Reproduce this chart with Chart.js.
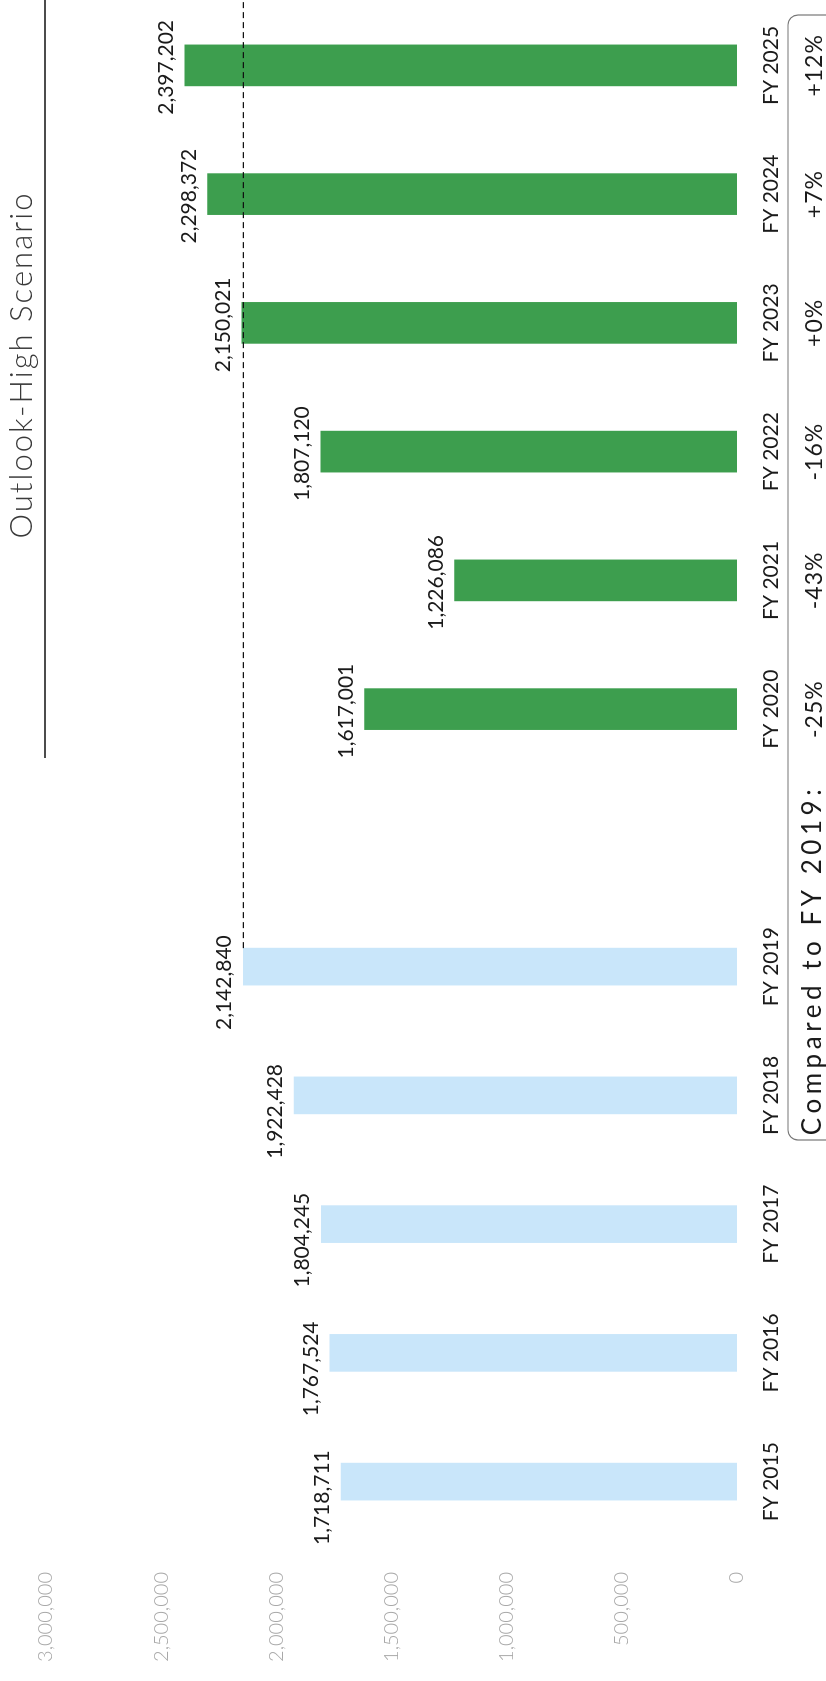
<!DOCTYPE html>
<html><head><meta charset="utf-8">
<script src="https://cdn.jsdelivr.net/npm/chart.js@4"></script>
<style>
html,body{margin:0;padding:0;background:#fff;overflow:hidden;width:826px;height:1681px;}
#wrap{position:absolute;left:0;top:0;width:1681px;height:826px;transform-origin:0 0;transform:translateY(1681px) rotate(-90deg);background:#fff;}
canvas{display:block;}
</style></head><body>
<div id="wrap"><canvas id="c" width="1681" height="826"></canvas></div>
<script>
const categories = ['FY 2015','FY 2016','FY 2017','FY 2018','FY 2019','','FY 2020','FY 2021','FY 2022','FY 2023','FY 2024','FY 2025'];
const historical = [1718711,1767524,1804245,1922428,2142840,null,null,null,null,null,null,null];
const outlookHigh = [null,null,null,null,null,null,1617001,1226086,1807120,2150021,2298372,2397202];
const changeVs2019 = ['','','','','','','-25%','-43%','-16%','+0%','+7%','+12%'];
const yTicks = [0,500000,1000000,1500000,2000000,2500000,3000000];
const baselineIndex = 4;
const titleText = 'Outlook-High Scenario';
const compareLabel = 'Compared to FY 2019:';

const fmt = v => Number(v).toLocaleString('en-US');

function fitSpacing(ctx, text, target){
  ctx.letterSpacing = '0px';
  const w = ctx.measureText(text).width;
  const sp = Math.max(0, (target - w) / Math.max(1, text.length - 1));
  ctx.letterSpacing = sp.toFixed(2) + 'px';
}

const annot = {
  id: 'annot',
  afterDatasetsDraw(chart){
    const {ctx, scales:{x, y}} = chart;
    ctx.save();
    // value labels above bars
    chart.data.datasets.forEach((ds, di) => {
      const meta = chart.getDatasetMeta(di);
      const dx = di === 0 ? -16 : -2;
      meta.data.forEach((bar, i) => {
        const v = ds.data[i];
        if (v == null) return;
        ctx.font = '21px Lato';
        ctx.fillStyle = '#1a1a1a';
        ctx.textAlign = 'center';
        ctx.textBaseline = 'alphabetic';
        ctx.fillText(fmt(v), bar.x + dx, bar.y - 12);
      });
    });
    // dashed reference line at the FY 2019 level
    const refBar = chart.getDatasetMeta(0).data[baselineIndex];
    const yRef = y.getPixelForValue(historical[baselineIndex]);
    ctx.setLineDash([6, 4]);
    ctx.lineWidth = 1.2;
    ctx.strokeStyle = '#111';
    ctx.beginPath();
    ctx.moveTo(refBar.x + refBar.width / 2, yRef);
    ctx.lineTo(chart.width, yRef);
    ctx.stroke();
    ctx.setLineDash([]);

    // section title and rule
    ctx.font = '300 31px Lato';
    ctx.fillStyle = '#3a3a3a';
    ctx.textAlign = 'center';
    ctx.textBaseline = 'alphabetic';
    fitSpacing(ctx, titleText, 345);
    ctx.fillText(titleText, 1316, 32);
    ctx.letterSpacing = '0px';
    ctx.lineWidth = 1.5;
    ctx.strokeStyle = '#111';
    ctx.beginPath();
    ctx.moveTo(923, 45);
    ctx.lineTo(chart.width, 45);
    ctx.stroke();

    // comparison box
    ctx.lineWidth = 1.2;
    ctx.strokeStyle = '#777';
    ctx.beginPath();
    ctx.roundRect(541, 788, 1666 - 541, 120, 10);
    ctx.stroke();

    ctx.font = '26px Lato';
    ctx.fillStyle = '#1a1a1a';
    ctx.textBaseline = 'middle';
    fitSpacing(ctx, compareLabel, 346);
    ctx.fillText(compareLabel, 721, 813);
    ctx.letterSpacing = '1px';
    ctx.font = '23px Lato';
    changeVs2019.forEach((t, i) => {
      if (!t) return;
      ctx.fillText(t, x.getPixelForValue(i), 815);
    });
    ctx.restore();
  }
};

function draw(){
  new Chart(document.getElementById('c'), {
    type: 'bar',
    data: {
      labels: categories,
      datasets: [
        {label: 'Historical', data: historical, backgroundColor: '#c9e6fa', barThickness: 37, grouped: false},
        {label: 'Outlook-High Scenario', data: outlookHigh, backgroundColor: '#3d9e4e', barThickness: 41, grouped: false}
      ]
    },
    options: {
      responsive: false,
      animation: false,
      devicePixelRatio: 1,
      layout: {padding: {top: 46, right: 1, left: 0, bottom: 0}},
      plugins: {legend: {display: false}, tooltip: {enabled: false}},
      scales: {
        x: {
          offset: true,
          grid: {display: false, drawTicks: false},
          border: {display: false},
          ticks: {autoSkip: false, maxRotation: 0, minRotation: 0, padding: 22, color: '#1a1a1a', font: {family: 'Lato', size: 21}},
          afterFit(s){ s.height = 89; }
        },
        y: {
          min: 0, max: 3000000,
          grid: {display: false, drawTicks: false},
          border: {display: false},
          afterBuildTicks(s){ s.ticks = yTicks.map(v => ({value: v})); },
          ticks: {padding: 26, color: '#a8a8a8', font: {family: 'Lato', size: 20, weight: '300'}, callback: v => fmt(v)},
          afterFit(s){ s.width = 135; }
        }
      }
    },
    plugins: [annot]
  });
}
Promise.all([document.fonts.load('21px Lato'), document.fonts.load('300 31px Lato')]).then(draw, draw);
</script>
</body></html>
